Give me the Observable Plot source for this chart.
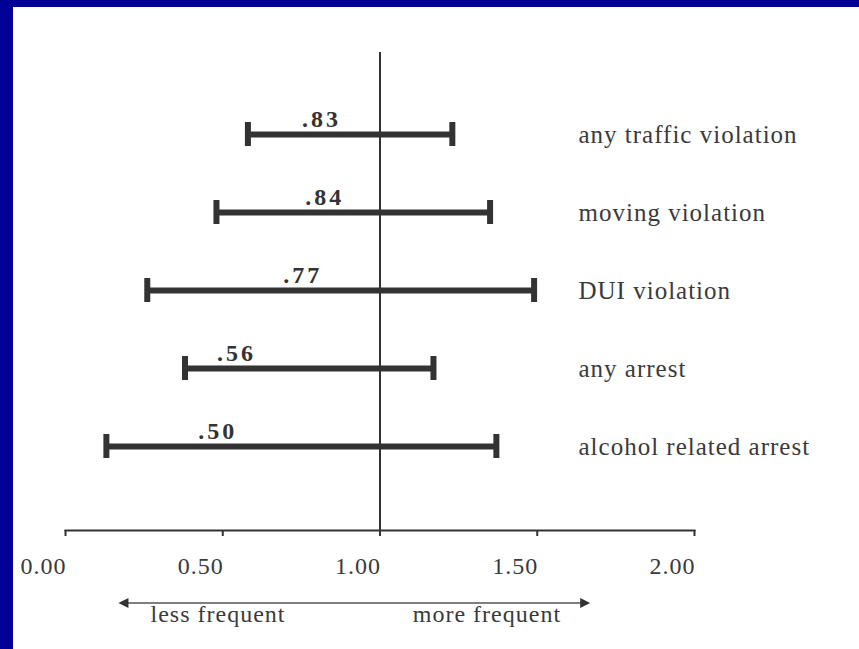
<!DOCTYPE html>
<html>
<head>
<meta charset="utf-8">
<script src="https://cdn.jsdelivr.net/npm/d3@7"></script>
<script src="https://cdn.jsdelivr.net/npm/@observablehq/plot@0.6"></script>
<style>
  html, body { margin: 0; padding: 0; background: #ffffff; }
  #wrap {
    width: 846px; height: 642px;
    border-top: 7px solid #000099;
    border-left: 13px solid #000099;
    background: #ffffff;
    overflow: hidden;
  }
  #wrap svg text { letter-spacing: 1px; }
  #wrap svg .est text { letter-spacing: 3px; }
</style>
</head>
<body>
<div id="wrap"></div>
<script>
// ---- data ----
const categories = ["any traffic violation", "moving violation", "DUI violation", "any arrest", "alcohol related arrest"];
const estimates  = [0.83, 0.84, 0.77, 0.56, 0.50];
const lower      = [0.58, 0.48, 0.26, 0.38, 0.13];
const upper      = [1.23, 1.35, 1.49, 1.17, 1.37];
const tickValues = [0, 0.5, 1, 1.5, 2];
const referenceValue = [1];
const arrowRange = [0.17, 1.67];
const directionLabels = ["less frequent", "more frequent"];
const directionCenters = [0.485, 1.34];

const rows = categories.map((c, i) => ({category: c, est: estimates[i], lo: lower[i], hi: upper[i]}));

const ink = "#333333";
const textInk = "#3a3a3a";

const arrowMark = (index, scales, values, dims) => {
  const y = dims.height - dims.marginBottom + 73;
  const [a, b] = arrowRange.map(scales.x);
  const g = d3.create("svg:g");
  g.append("line")
    .attr("x1", a + 6).attr("x2", b - 6)
    .attr("y1", y).attr("y2", y)
    .attr("stroke", "#555").attr("stroke-width", 1.5);
  g.append("path")
    .attr("d", `M${a},${y}L${a + 10},${y - 5}L${a + 10},${y + 5}Z`)
    .attr("fill", ink);
  g.append("path")
    .attr("d", `M${b},${y}L${b - 10},${y - 5}L${b - 10},${y + 5}Z`)
    .attr("fill", ink);
  return g.node();
};

const chart = Plot.plot({
  width: 846,
  height: 642,
  marginLeft: 52,
  marginRight: 165,
  marginTop: 45,
  marginBottom: 119,
  x: {domain: [0, 2]},
  y: {type: "band", domain: categories, range: [86.75, 479.25], padding: 0, axis: null},
  style: {
    fontFamily: "'Liberation Serif', 'Times New Roman', serif",
    background: "#ffffff",
    color: textInk
  },
  marks: [
    Plot.frame({anchor: "bottom", stroke: ink, strokeWidth: 2}),
    Plot.ruleX(referenceValue, {stroke: ink, strokeWidth: 2}),
    Plot.axisX({ticks: tickValues, tickSize: 6, stroke: ink, strokeWidth: 2, fill: "none"}),
    Plot.axisX({ticks: tickValues, tickSize: 6, tickPadding: 20, stroke: "none", fill: textInk,
                tickFormat: d => d.toFixed(2), fontSize: 24, dx: -22}),
    Plot.ruleY(rows, {y: "category", x1: "lo", x2: "hi", stroke: ink, strokeWidth: 6}),
    Plot.tickX(rows, {x: "lo", y: "category", stroke: ink, strokeWidth: 6, insetTop: 27, insetBottom: 27}),
    Plot.tickX(rows, {x: "hi", y: "category", stroke: ink, strokeWidth: 6, insetTop: 27, insetBottom: 27}),
    Plot.text(rows, {x: "est", y: "category", text: d => d.est.toFixed(2).replace(/^0/, ""),
                     dy: -15, dx: -5, fontSize: 24, fontWeight: "bold", fill: ink, className: "est"}),
    Plot.text(rows, {y: "category", text: "category", frameAnchor: "right", textAnchor: "start",
                     dx: -116, fontSize: 25, fill: textInk}),
    arrowMark,
    Plot.text(directionLabels, {x: directionCenters, text: directionLabels, frameAnchor: "bottom",
                                dy: 91, fontSize: 24, fill: textInk})
  ]
});

document.getElementById("wrap").appendChild(chart);
</script>
</body>
</html>
